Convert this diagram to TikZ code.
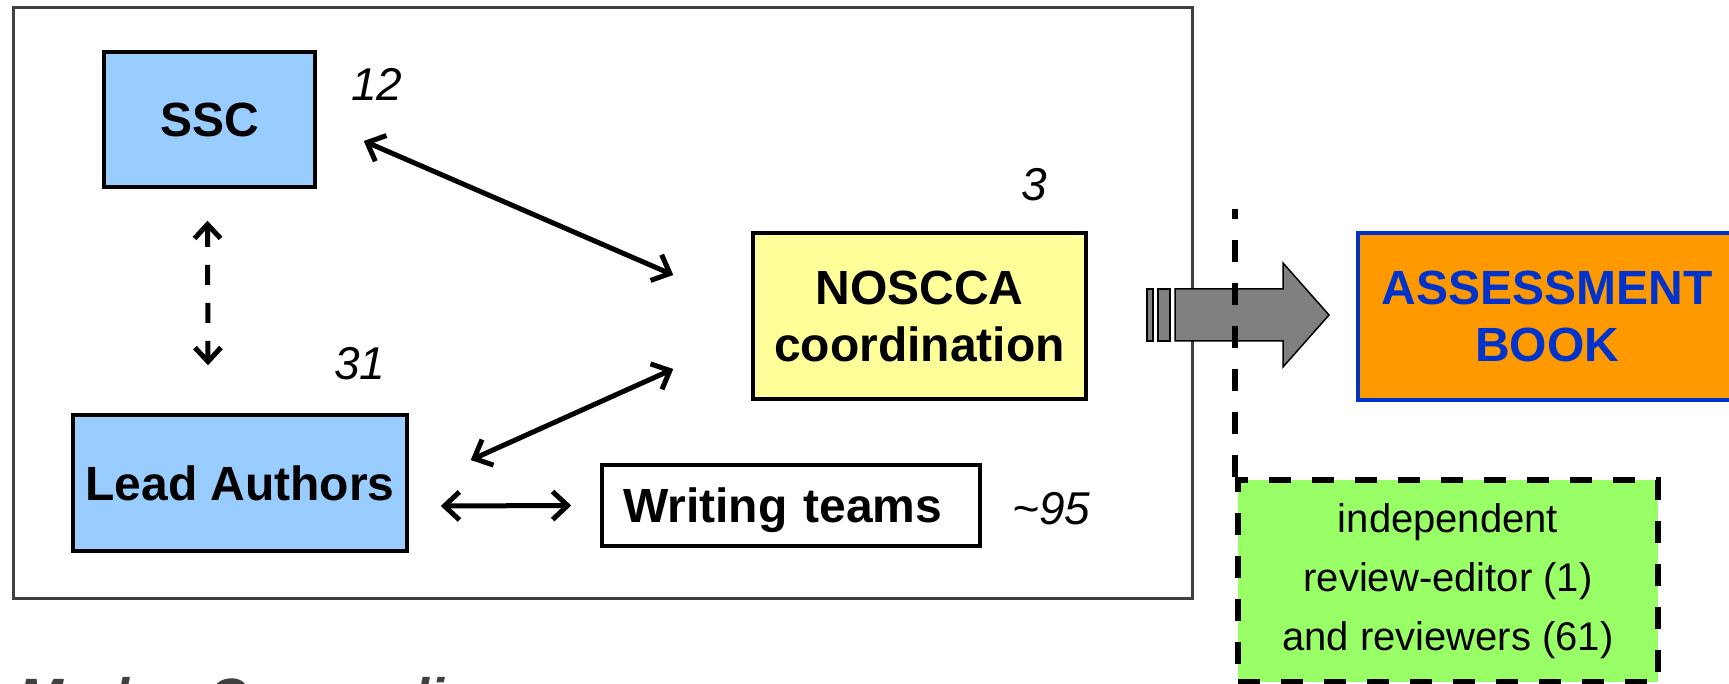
\documentclass[tikz,border=0pt]{standalone}
\usepackage{fontspec}
\setmainfont{Liberation Sans}
\usepackage{tikz}
\usetikzlibrary{positioning,arrows.meta}
\definecolor{boxblue}{HTML}{99CCFF}
\definecolor{noyellow}{HTML}{FFFF99}
\definecolor{bookorange}{HTML}{FF9900}
\definecolor{bookblue}{HTML}{0033CC}
\definecolor{revgreen}{HTML}{99FF66}
\definecolor{framegray}{HTML}{404040}
\definecolor{bigarrow}{HTML}{808080}
\tikzstyle{arrow} = [line width=5pt,{Straight Barb[length=15pt,width=28pt]}-{Straight Barb[length=15pt,width=28pt]}]
\tikzstyle{darrow} = [line width=5pt,dash pattern=on 20pt off 18pt,{Straight Barb[length=14pt,width=26pt]}-{Straight Barb[length=14pt,width=26pt]}]
\tikzset{
 b/.style
  = {rectangle, draw, line width=3.5pt, font=\fontsize{48}{57}\selectfont\bfseries,
     align=center, inner sep=0pt},
 num/.style
  = {font=\fontsize{46}{46}\selectfont\itshape, inner sep=0pt, anchor=base west},
 sep/.style
  = {line width=6pt, dash pattern=on 22pt off 21pt},
}
\begin{document}
\begin{tikzpicture}[x=1pt, y=-1pt]
\useasboundingbox (0,0) rectangle (1729,684);
\clip (0,0) rectangle (1729,684);

% Frame
\draw[framegray, line width=3pt] (13,8) rectangle (1192,598);

% SSC
\node[b, fill=boxblue, minimum width=211, minimum height=135] (ssc) at (209.5,119.5) {SSC};
\node[num] (sscn) at (351,101) {12};

% Lead Authors
\node[b, fill=boxblue, minimum width=334, minimum height=136] (lead) at (240,483) {Lead Authors};
\node[num] (leadn) at (334,380) {31};

% NOSCCA
\node[b, fill=noyellow, minimum width=333, minimum height=166] (nos) at (919.5,316) {NOSCCA\\coordination};
\node[num] (nosn) at (1021,201) {3};

% Writing teams
\node[b, fill=white, text width=336, inner xsep=21, minimum height=81, align=left,
      text depth=0pt] (write) at (791,505.5) {Writing teams};
\node[num] (writen) at (1012,524) {\textasciitilde95};

% Connectors
\draw[arrow] ([shift={(47,21.5)}]ssc.east) -- ([shift={(-78,-41)}]nos.west);
\draw[arrow] ([shift={(62,-23)}]lead.east) -- ([shift={(-78,53)}]nos.west);
\draw[arrow] ([shift={(32,23)}]lead.east) -- ([shift={(-29,0)}]write.west);
\draw[darrow] ([shift={(-2,32)}]ssc.south) -- ([shift={(-32,-48)}]lead.north);

% Assessment book
\node[b, fill=bookorange, draw=bookblue, text=bookblue, minimum width=378,
      minimum height=167] (book) at (1547,316.5) {ASSESSMENT\\BOOK};

% Big arrow
\draw[fill=bigarrow, line width=1.5pt] (1147,289) rectangle (1153,341);
\draw[fill=bigarrow, line width=1.5pt] (1158,289) rectangle (1170,341);
\draw[fill=bigarrow, line width=1.5pt] (1175,289) -- (1283,289) -- (1283,263)
  -- (1329,315) -- (1283,367) -- (1283,341) -- (1175,341) -- cycle;

% Review
\node[b, fill=revgreen, sep, minimum width=420, minimum height=202,
      font=\fontsize{40}{59}\selectfont] (rev) at (1448,581)
      {independent\\review-editor (1)\\and reviewers (61)};
\draw[sep] (rev.north west) -- ++(0,-268);

% Title
\node[anchor=base west, inner sep=0pt, text=framegray,
      font=\fontsize{54}{54}\selectfont\bfseries\itshape] (title) at (18,716) {Modus Operandi};

\end{tikzpicture}
\end{document}
